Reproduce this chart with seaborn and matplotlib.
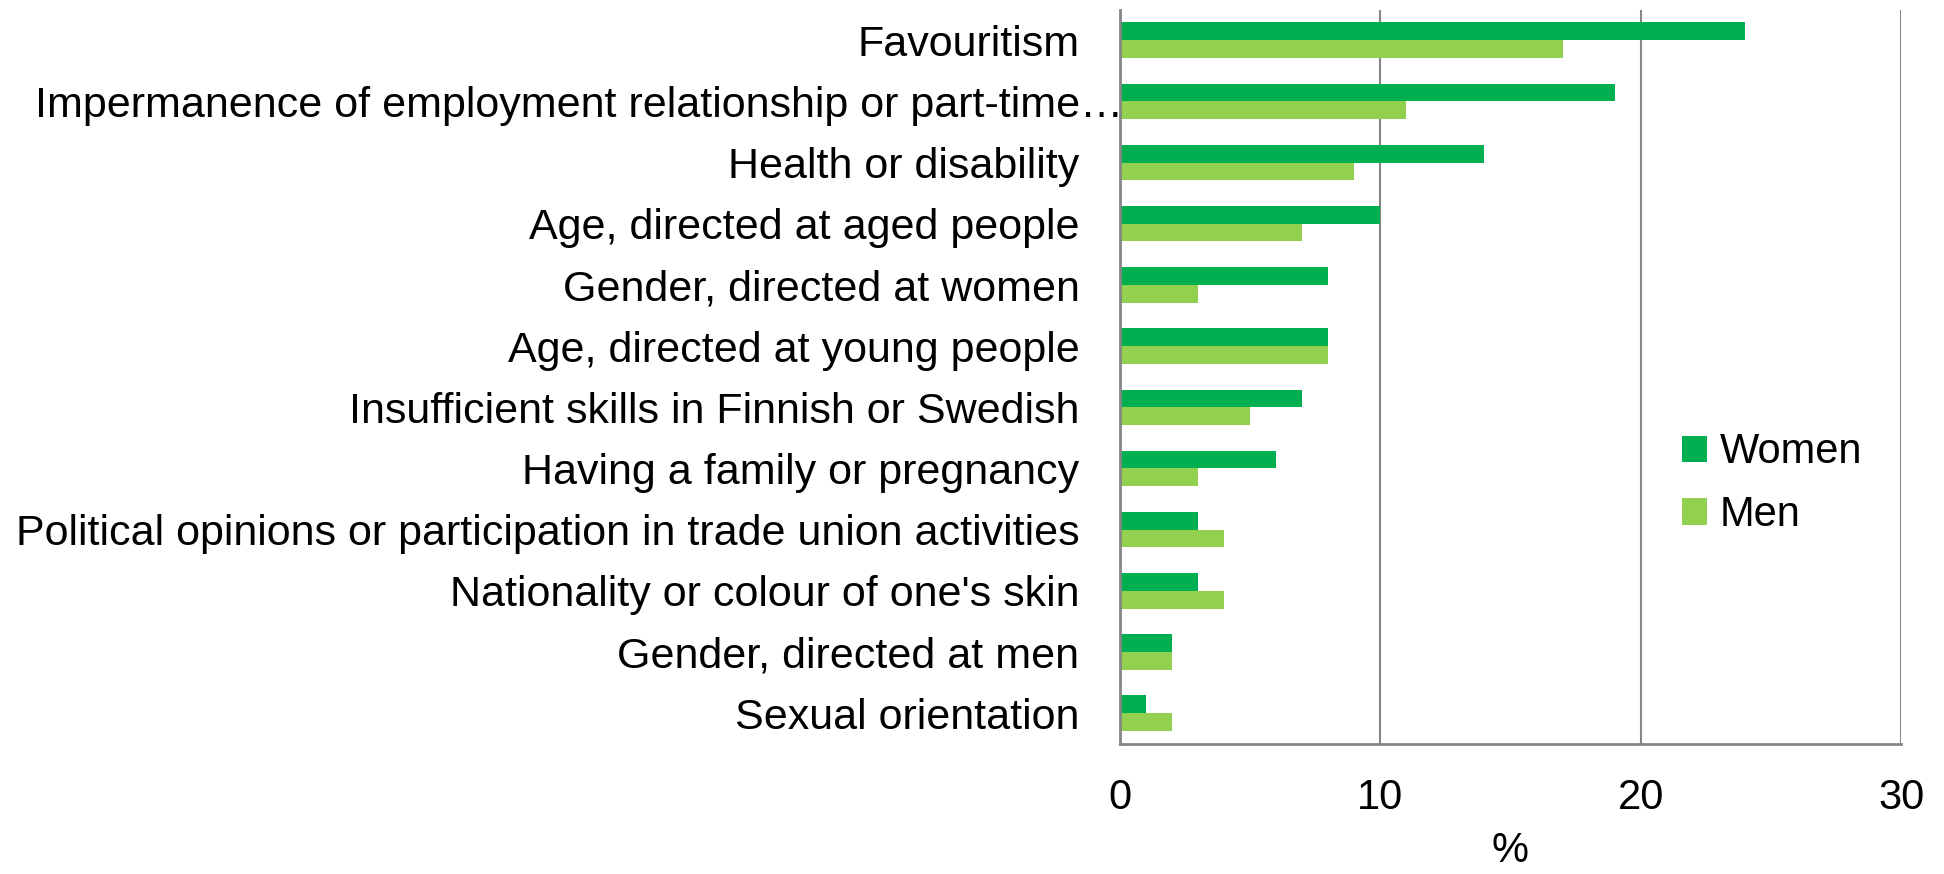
import pandas as pd
import numpy as np
import matplotlib
matplotlib.use("Agg")
import matplotlib.pyplot as plt
import matplotlib.transforms as mtransforms
import seaborn as sns

# data
categories = [
    "Favouritism",
    "Impermanence of employment relationship or part-time\u2026",
    "Health or disability",
    "Age, directed at aged people",
    "Gender, directed at women",
    "Age, directed at young people",
    "Insufficient skills in Finnish or Swedish",
    "Having a family or pregnancy",
    "Political opinions or participation in trade union activities",
    "Nationality or colour of one's skin",
    "Gender, directed at men",
    "Sexual orientation",
]
women = [24, 19, 14, 10, 8, 8, 7, 6, 3, 3, 2, 1]
men = [17, 11, 9, 7, 3, 8, 5, 3, 4, 4, 2, 2]
groups = ["Women", "Men"]
xticks = [0, 10, 20, 30]

df = pd.DataFrame({
    "category": categories * 2,
    "value": women + men,
    "group": ["Women"] * len(categories) + ["Men"] * len(categories),
})

sns.set_style("white")
plt.rcParams["font.family"] = ["Liberation Sans", "DejaVu Sans"]
plt.rcParams["text.color"] = "black"
plt.rcParams["xtick.color"] = "black"
plt.rcParams["ytick.color"] = "black"
plt.rcParams["axes.labelcolor"] = "black"

fig = plt.figure(figsize=(19.44, 8.74), dpi=100)
ax = fig.add_axes([0.576, 0.149, 0.402, 0.840])

sns.barplot(data=df, y="category", x="value", hue="group", hue_order=groups,
            order=categories, orient="h", palette=["#00B050", "#92D050"],
            width=0.58, saturation=1, linewidth=0, ax=ax)

gray = "#868686"
ax.set_xlim(0, 30)
ax.set_ylim(len(categories) - 0.5, -0.5)
ax.set_xticks(xticks)
ax.set_xticklabels([str(t) for t in xticks], fontsize=30)
ax.xaxis.grid(True, color=gray, linewidth=1.5)
ax.set_axisbelow(True)
for s in ["top", "right"]:
    ax.spines[s].set_visible(False)
for s in ["left", "bottom"]:
    ax.spines[s].set_color(gray)
    ax.spines[s].set_linewidth(2)

ax.tick_params(axis="x", length=13, width=2, color=gray, pad=12, direction="out")
ax.tick_params(axis="y", which="major", length=0, pad=29, labelsize=31)
ax.set_yticks(np.arange(-0.5, len(categories)), minor=True)
ax.tick_params(axis="y", which="minor", length=13, width=2, color=gray, direction="out")

# the long label sticks out to the axis like in the original
lbl = ax.get_yticklabels()[1]
lbl.set_transform(lbl.get_transform() + mtransforms.ScaledTranslation(0.44, 0, fig.dpi_scale_trans))

ax.set_xlabel("%", fontsize=30, labelpad=9)
ax.set_ylabel("")

ax.legend(loc="center left", bbox_to_anchor=(0.672, 0.354), frameon=False,
          fontsize=30, handlelength=0.6, handleheight=0.6, handletextpad=0.3,
          labelspacing=0.55)

plt.savefig("out.png", dpi=100)
